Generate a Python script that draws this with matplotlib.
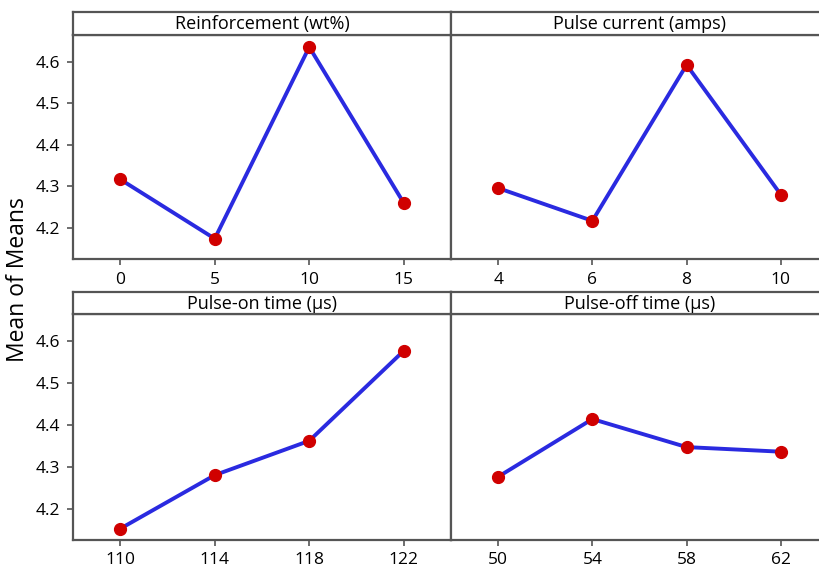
import matplotlib.pyplot as plt

plt.rcParams['font.family'] = ['Open Sans', 'DejaVu Sans']

# factor names and levels
factors = ["Reinforcement (wt%)", "Pulse current (amps)",
           "Pulse-on time (μs)", "Pulse-off time (μs)"]
reinforcement_levels = ["0", "5", "10", "15"]
current_levels = ["4", "6", "8", "10"]
pulse_on_levels = ["110", "114", "118", "122"]
pulse_off_levels = ["50", "54", "58", "62"]

# mean of means for each level
reinforcement_means = [4.317, 4.174, 4.636, 4.260]
current_means = [4.296, 4.217, 4.593, 4.280]
pulse_on_means = [4.152, 4.280, 4.362, 4.577]
pulse_off_means = [4.276, 4.414, 4.347, 4.336]

W, H = 819, 567
fig = plt.figure(figsize=(W / 100, H / 100), dpi=100)

frame_col = "#555555"


def px_axes(x0, y0, x1, y1):
    # pixel box (top-left origin) -> figure axes
    return fig.add_axes([x0 / W, 1 - y1 / H, (x1 - x0) / W, (y1 - y0) / H])


def panel(x0, x1, ys, yp, yb, title, levels, means, show_y):
    ax = px_axes(x0, yp, x1, yb)
    pos = list(range(len(levels)))
    ax.plot(pos, means, color="#2a2ae0", lw=2.8, zorder=2)
    ax.plot(pos, means, "o", color="#d00000", ms=8.5, zorder=3)
    ax.set_xlim(-0.5, 3.5)
    ax.set_ylim(4.125, 4.665)
    ax.set_xticks(pos)
    ax.set_xticklabels(levels)
    ax.set_yticks([4.2, 4.3, 4.4, 4.5, 4.6])
    ax.tick_params(direction="out", length=4, width=1.2, color=frame_col,
                   labelsize=12.5, pad=5)
    if not show_y:
        ax.tick_params(axis="y", left=False, labelleft=False)
    for s in ax.spines.values():
        s.set_color(frame_col)
        s.set_linewidth(1.6)

    strip = px_axes(x0, ys, x1, yp)
    strip.set_xticks([])
    strip.set_yticks([])
    for s in strip.spines.values():
        s.set_color(frame_col)
        s.set_linewidth(1.6)
    strip.text(0.5, 0.47, title, ha="center", va="center", fontsize=13,
               transform=strip.transAxes)
    return ax


panel(73, 451, 12, 35, 259, factors[0], reinforcement_levels, reinforcement_means, True)
panel(451, 828, 12, 35, 259, factors[1], current_levels, current_means, False)
panel(73, 451, 292, 314, 540, factors[2], pulse_on_levels, pulse_on_means, True)
panel(451, 828, 292, 314, 540, factors[3], pulse_off_levels, pulse_off_means, False)

fig.text(18 / W, 1 - 280 / H, "Mean of Means", rotation=90, ha="center",
         va="center", fontsize=16.5)

fig.savefig("out.png", dpi=100)
